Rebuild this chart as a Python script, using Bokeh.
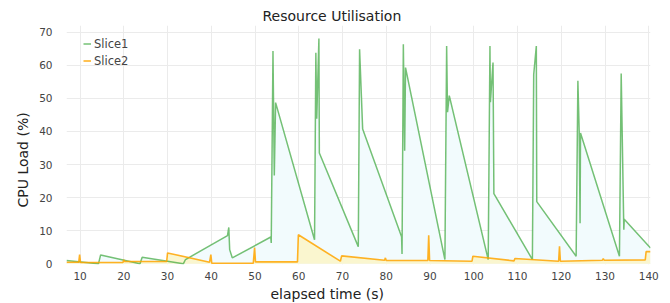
from bokeh.plotting import figure
from bokeh.models import Range1d, FixedTicker, Legend, LegendItem, Title
from bokeh.embed import file_html
from bokeh.resources import INLINE

# ---- data ----
slice1_t = [6.9, 14.2, 14.7, 23.7, 24.2, 33.6, 34.1, 43.7, 44.0, 44.2, 44.8,
            53.6, 53.7, 54.1, 54.4, 54.7, 63.6, 63.9, 64.1, 64.6, 64.7,
            73.6, 73.9, 74.6, 83.5, 83.6, 83.9, 84.2, 84.4,
            93.4, 93.8, 94.0, 94.4, 103.3, 103.7, 103.8, 104.4, 104.6,
            113.4, 113.7, 114.3, 114.4, 123.4, 123.8, 124.1, 124.3, 124.4,
            133.3, 133.7, 134.3, 134.4, 140.4]
slice1_y = [1.0, 0.0, 2.7, 0.0, 2.0, 0.0, 1.3, 8.5, 11.0, 4.3, 1.8,
            8.1, 6.3, 64.3, 26.7, 48.7, 7.3, 63.8, 43.8, 68.1, 33.5,
            5.2, 64.8, 40.7, 8.2, 3.0, 66.3, 34.2, 59.3,
            1.3, 65.8, 45.8, 50.8, 1.3, 65.8, 48.8, 60.8, 21.2,
            1.3, 57.2, 65.8, 18.8, 2.3, 55.3, 40.0, 12.3, 39.5,
            2.3, 57.5, 10.3, 13.5, 4.8]

slice2_t = [6.9, 9.7, 9.9, 10.1, 19.8, 20.0, 20.2, 29.8, 30.0, 39.6, 39.9, 40.1,
            49.6, 49.9, 50.1, 59.7, 59.9, 69.5, 69.8, 79.6, 79.8, 80.0,
            89.5, 89.7, 89.9, 99.6, 99.8, 109.2, 109.4, 119.4, 119.6, 119.8,
            129.4, 129.6, 129.8, 139.2, 139.4, 140.4]
slice2_y = [0.5, 0.5, 2.8, 0.4, 0.4, 1.2, 0.7, 0.7, 3.3, 0.5, 2.8, 0.2,
            0.2, 4.9, 0.6, 0.6, 8.8, 0.8, 2.4, 1.1, 1.8, 1.0,
            1.0, 8.6, 1.0, 0.8, 2.3, 0.9, 1.6, 0.8, 5.3, 0.8,
            1.1, 1.6, 1.1, 1.2, 3.7, 3.7]

x_ticks = [10, 20, 30, 40, 50, 60, 70, 80, 90, 100, 110, 120, 130, 140]
y_ticks = [0, 10, 20, 30, 40, 50, 60, 70]

title_text = "Resource Utilisation"
x_label = "elapsed time (s)"
y_label = "CPU Load (%)"
names = ["Slice1", "Slice2"]

FONT = "DejaVu Sans"

p = figure(width=670, height=303, output_backend="svg", toolbar_location=None,
           x_range=Range1d(6.9, 140.4), y_range=Range1d(-0.2, 72),
           min_border_left=66, min_border_right=20, min_border_top=25,
           min_border_bottom=38)
p.outline_line_color = None
p.background_fill_color = "white"
p.border_fill_color = "white"

# fills
p.varea(x=slice1_t, y1=0, y2=slice1_y, fill_color="#f2fbfd")
p.varea(x=slice2_t, y1=0, y2=slice2_y, fill_color="#faf6cf")

# lines
r1 = p.line(slice1_t, slice1_y, line_color="#2ca02c", line_alpha=0.65, line_width=1.5)
r2 = p.line(slice2_t, slice2_y, line_color="#ffa500", line_alpha=0.85, line_width=1.6)

# axes
for ax in (p.xaxis[0], p.yaxis[0]):
    ax.axis_line_color = None
    ax.major_tick_line_color = None
    ax.minor_tick_line_color = None
    ax.major_label_text_font = FONT
    ax.major_label_text_font_size = "10.5px"
    ax.major_label_text_color = "#444444"
p.xaxis.ticker = FixedTicker(ticks=x_ticks)
p.yaxis.ticker = FixedTicker(ticks=y_ticks)
p.xaxis.major_label_standoff = 1
p.yaxis.major_label_standoff = 8

p.xgrid.ticker = FixedTicker(ticks=x_ticks)
p.ygrid.ticker = FixedTicker(ticks=y_ticks)
p.xgrid.grid_line_color = "#ebebeb"
p.ygrid.grid_line_color = "#ebebeb"

# legend
legend = Legend(items=[LegendItem(label=names[0], renderers=[r1]),
                       LegendItem(label=names[1], renderers=[r2])],
                location=(17, 195), padding=0, margin=0, spacing=0,
                glyph_width=8, glyph_height=17, label_height=17, label_standoff=3,
                label_text_font=FONT, label_text_font_size="11.5px",
                label_text_color="#444444",
                background_fill_alpha=0, border_line_alpha=0)
p.add_layout(legend, "center")

# title and axis titles as Title objects (so they can be offset)
p.title.text = title_text
p.title.align = "left"
p.title.offset = 196
p.title.standoff = 3
p.title.text_font = FONT
p.title.text_font_size = "14px"
p.title.text_font_style = "normal"
p.title.text_color = "#222222"

p.add_layout(Title(text=x_label, align="left", offset=204, standoff=3,
                   text_font=FONT, text_font_size="14px", text_font_style="normal",
                   text_color="#222222"), "below")
p.add_layout(Title(text=y_label, align="left", offset=57, standoff=12,
                   text_font=FONT, text_font_size="14px", text_font_style="normal",
                   text_color="#222222"), "left")

open("out.html", "w").write(file_html(p, INLINE))
